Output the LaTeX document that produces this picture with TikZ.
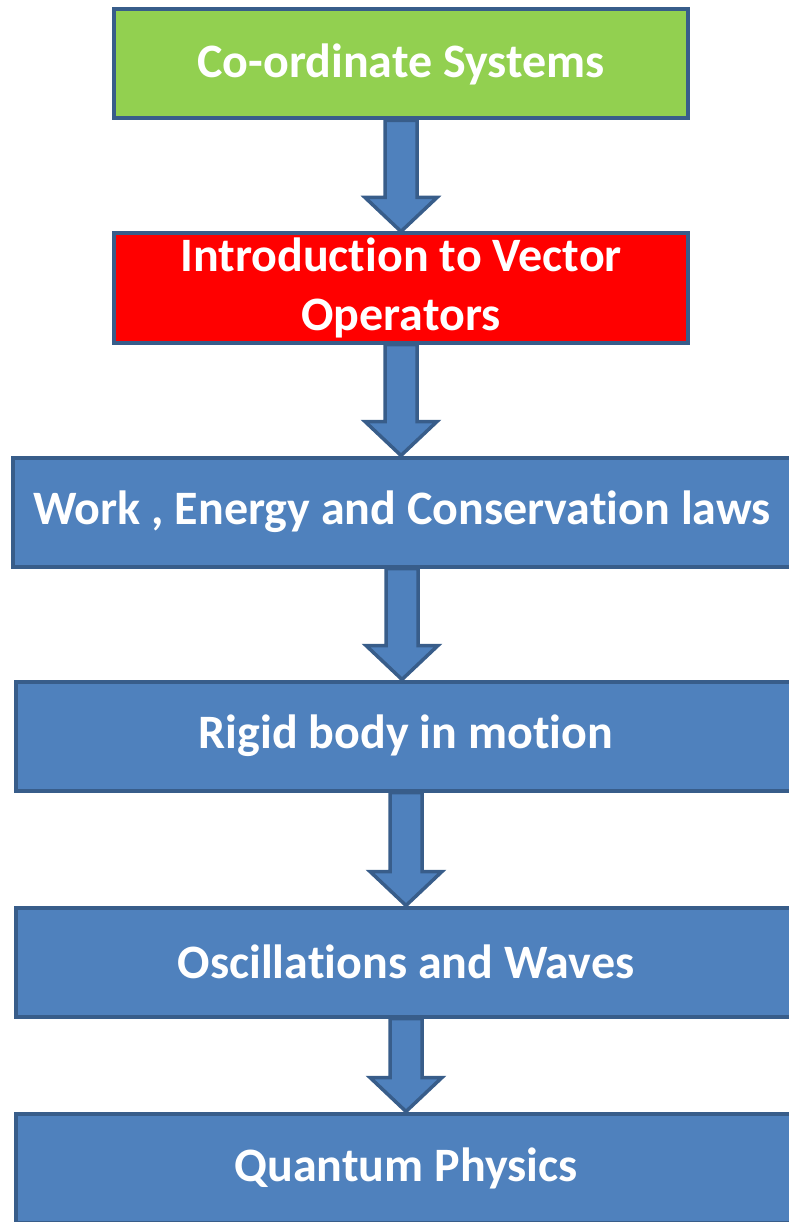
\documentclass[tikz,border=0pt]{standalone}
\usepackage{fontspec}
\setmainfont{Carlito}[Ligatures=NoCommon]
\usetikzlibrary{calc}

\definecolor{boxblue}{HTML}{4F81BD}
\definecolor{boxline}{HTML}{385D8A}
\definecolor{boxgreen}{HTML}{92D050}
\definecolor{boxred}{HTML}{FF0000}

\begin{document}
\begin{tikzpicture}[
    x=1pt, y=-1pt,
    box/.style={draw=boxline, line width=4pt, fill=boxblue, text=white,
                align=center, inner sep=0pt, minimum height=109pt,
                font=\bfseries\fontsize{48}{59}\selectfont},
    flowarrow/.style={draw=boxline, line width=3.5pt, fill=boxblue, line join=miter}
]
    \useasboundingbox (0,0) rectangle (788,1222);

    % top two boxes, narrower
    \node[box, fill=boxgreen, minimum width=574pt] (n1) at (401,64)  {Co-ordinate Systems};
    \node[box, fill=boxred, minimum width=574pt]   (n2) at (401,288) {Introduction to Vector\\Operators};

    % wide boxes, running off the right edge
    \node[box, minimum width=778pt] (n3) at (402,512)  {Work , Energy and Conservation laws};
    \node[box, minimum width=780pt] (n4) at (406,736)  {Rigid body in motion};
    \node[box, minimum width=780pt] (n5) at (406,962)  {Oscillations and Waves};
    \node[box, minimum width=780pt] (n6) at (406,1168) {Quantum Physics};

    % block arrows from box to box
    \foreach \a/\b in {n1/n2, n2/n3, n3/n4, n4/n5, n5/n6}
        \draw[flowarrow]
            ($(\a.south)+(-16,0)$) -- ($(\a.south |- \b.north)+(-16,-34)$)
            -- ++(-20,0) -- (\a.south |- \b.north)
            -- ($(\a.south |- \b.north)+(36,-34)$) -- ++(-20,0)
            -- ($(\a.south)+(16,0)$) -- cycle;
\end{tikzpicture}
\end{document}
